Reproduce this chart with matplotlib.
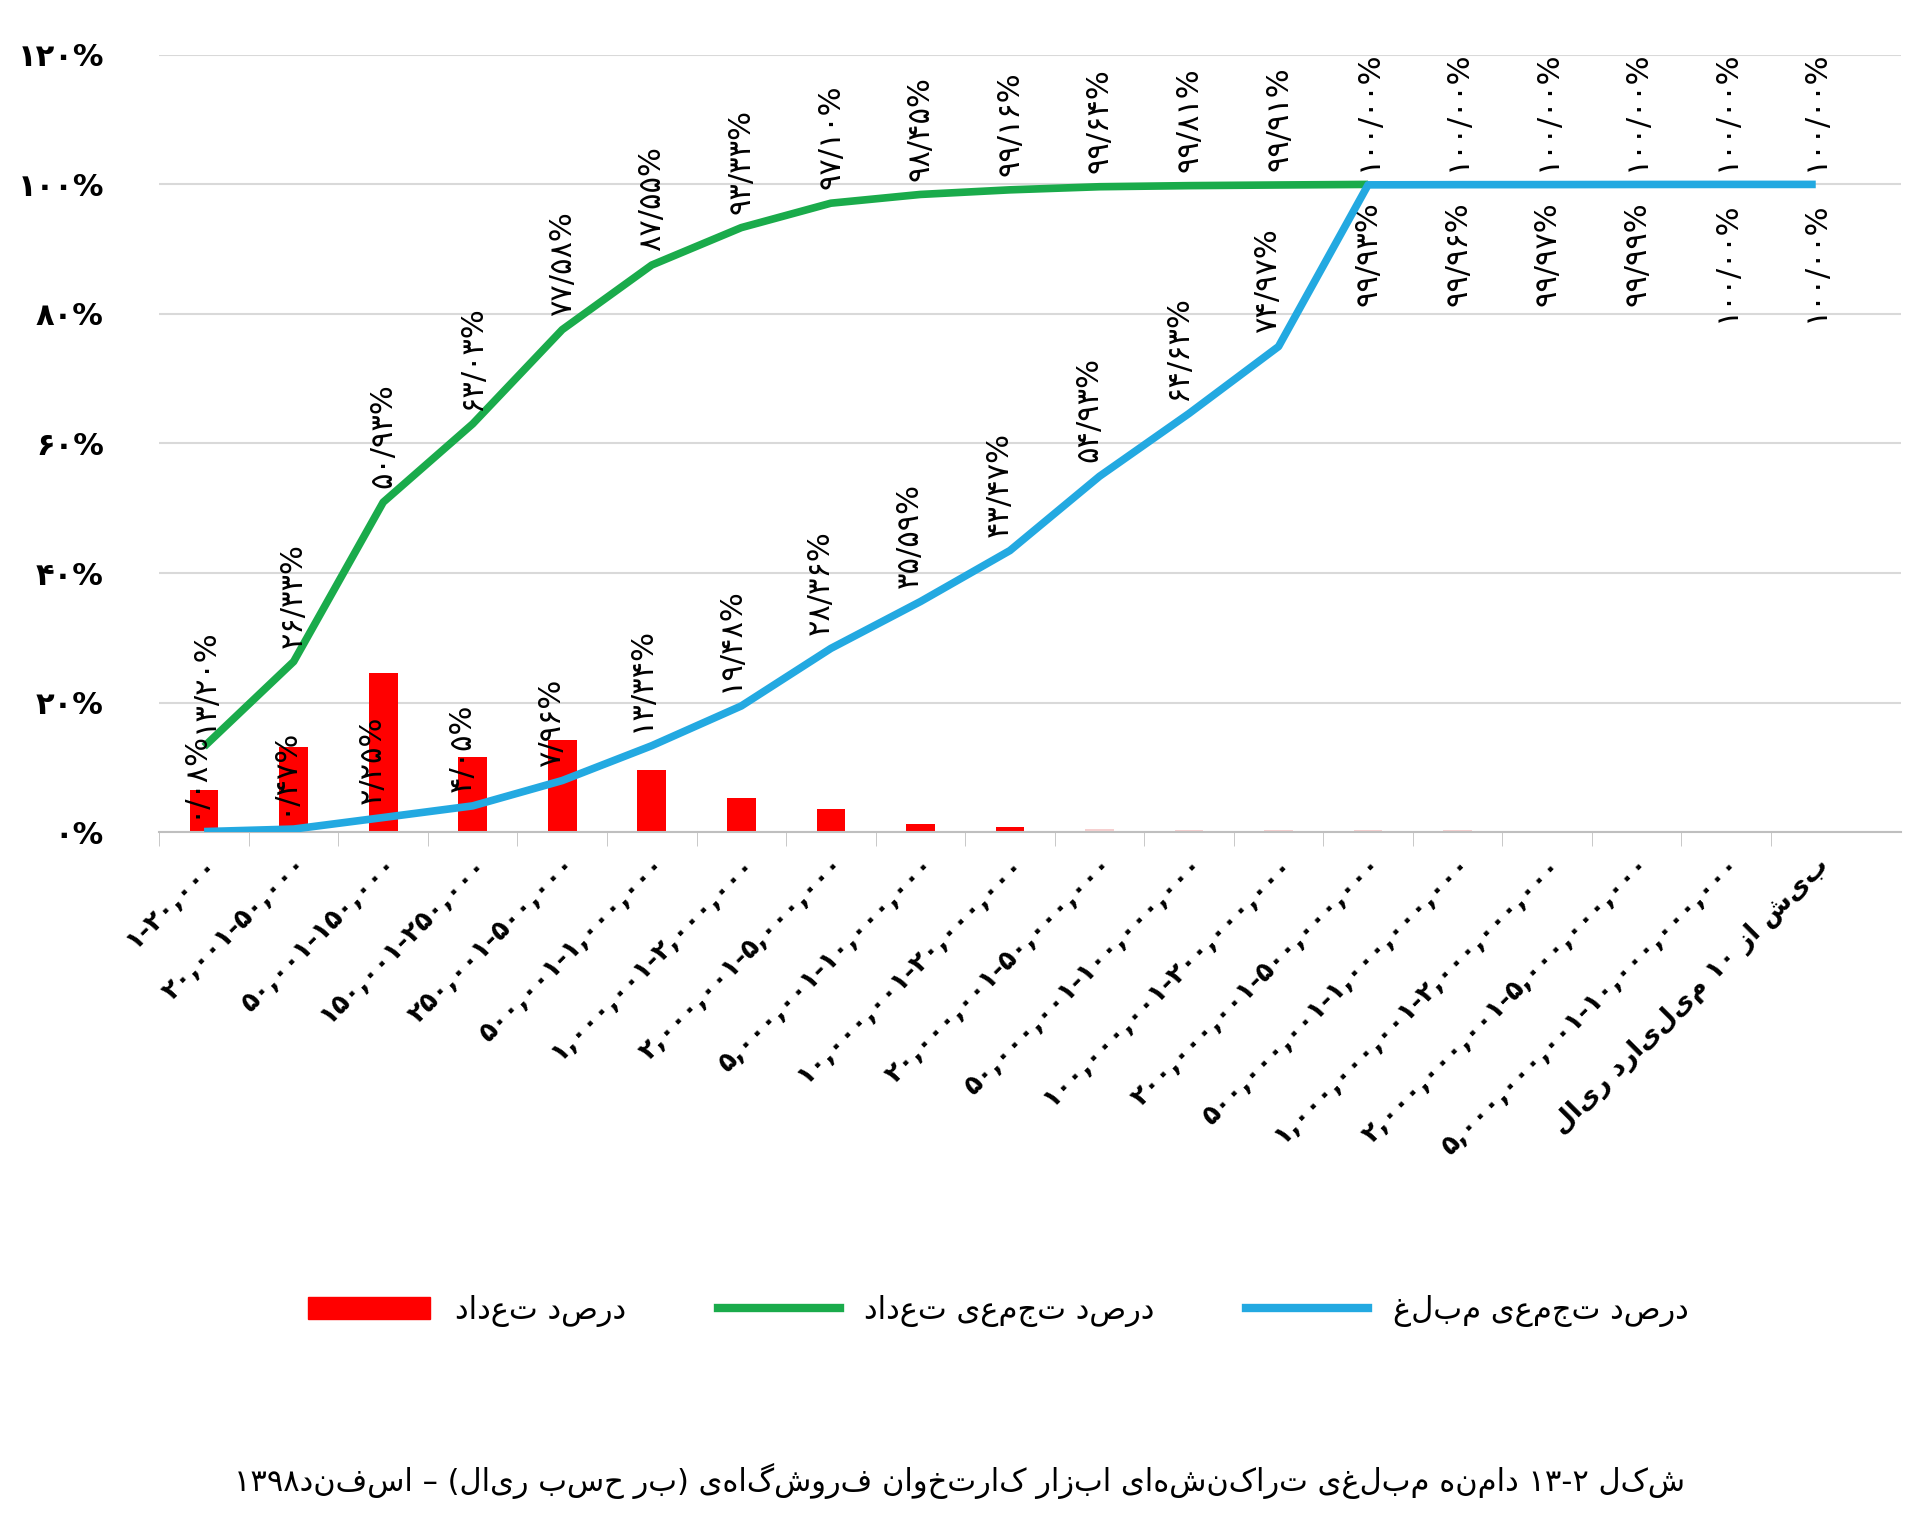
import re
import matplotlib.pyplot as plt
import numpy as np
from matplotlib.patches import Patch
from matplotlib.lines import Line2D

plt.rcParams['font.family'] = ['DejaVu Sans']

FA = str.maketrans('0123456789', '۰۱۲۳۴۵۶۷۸۹')
MIRROR = str.maketrans('()', ')(')

def fa(s):
    return str(s).translate(FA)

def rtl(s):
    # no bidi in matplotlib: flip letters by hand, keep digit runs in order
    r = s[::-1].translate(MIRROR)
    return re.sub(r'[۰-۹0-9]+', lambda m: m.group(0)[::-1], r)

# range bounds (rial)
lows = [1, 20001, 50001, 150001, 250001, 500001, 1000001, 2000001, 5000001,
        10000001, 20000001, 50000001, 100000001, 200000001, 500000001,
        1000000001, 2000000001, 5000000001]
highs = [20000, 50000, 150000, 250000, 500000, 1000000, 2000000, 5000000,
         10000000, 20000000, 50000000, 100000000, 200000000, 500000000,
         1000000000, 2000000000, 5000000000, 10000000000]
last_label = 'بیش از ۱۰ میلیارد ریال'

count_pct = [6.5, 13.1, 24.6, 11.6, 14.2, 9.6, 5.3, 3.6, 1.3, 0.8, 0.5, 0.4,
             0.4, 0.4, 0.4, 0.0, 0.0, 0.0, 0.0]
cum_count = [13.20, 26.33, 50.93, 63.03, 77.58, 87.55, 93.33, 97.10, 98.45,
             99.16, 99.64, 99.81, 99.91, 100.00, 100.00, 100.00, 100.00,
             100.00, 100.00]
cum_amount = [0.08, 0.47, 2.25, 4.05, 7.96, 13.34, 19.48, 28.36, 35.59, 43.47,
              54.93, 64.63, 74.97, 99.93, 99.96, 99.97, 99.99, 100.00, 100.00]

labels = [fa(f'{a:,}-{b:,}') for a, b in zip(lows, highs)] + [rtl(last_label)]
x = np.arange(len(labels))

def pct_label(v):
    return fa(f'{v:.2f}').replace('.', '/') + '%'

fig = plt.figure(figsize=(19.2, 15.24), dpi=100)
ax = fig.add_axes([0.083, 0.454, 0.907, 0.51])

bar_colors = ['#ff0000' if i < 10 else '#f6d0d0' for i in x]
ax.bar(x, count_pct, width=0.32, color=bar_colors, zorder=2)
ax.plot(x[:14], cum_count[:14], color='#1aab4b', lw=5.5, zorder=3, solid_capstyle='butt')
ax.plot(x, cum_amount, color='#23a9e1', lw=5.5, zorder=4, solid_capstyle='butt')

for i, v in enumerate(cum_count):
    ax.annotate(pct_label(v), (i, v), xytext=(0, 10), textcoords='offset points',
                rotation=90, ha='center', va='bottom', fontsize=22)
for i, v in enumerate(cum_amount):
    if i < 13:
        ax.annotate(pct_label(v), (i - 0.12, v), xytext=(0, 10), textcoords='offset points',
                    rotation=90, ha='center', va='bottom', fontsize=22)
    else:
        ax.annotate(pct_label(v), (i, v), xytext=(0, -12), textcoords='offset points',
                    rotation=90, ha='center', va='top', fontsize=22)

ax.set_xlim(-0.5, len(x) - 0.05)
ax.set_ylim(0, 120)
yt = np.arange(0, 121, 20)
ax.set_yticks(yt)
ax.set_yticklabels([fa(v) + '%' for v in yt], fontsize=22, fontweight='bold')
ax.tick_params(axis='y', length=0, pad=40)
ax.set_xticks(x)
ax.set_xticklabels(labels, rotation=45, ha='right', rotation_mode='anchor',
                   fontsize=19, fontweight='bold')
ax.tick_params(axis='x', length=0, pad=14)
ax.set_xticks(x - 0.5, minor=True)
ax.tick_params(axis='x', which='minor', length=10, color='#bfbfbf')
ax.grid(axis='y', color='#d9d9d9', lw=1.5, zorder=0)
ax.set_axisbelow(True)
for s in ['top', 'right', 'left']:
    ax.spines[s].set_visible(False)
ax.spines['bottom'].set_color('#bfbfbf')
ax.spines['bottom'].set_linewidth(1.5)

handles = [Patch(color='#ff0000'),
           Line2D([], [], color='#1aab4b', lw=6),
           Line2D([], [], color='#23a9e1', lw=6)]
names = [rtl('درصد تعداد'), rtl('درصد تجمعی تعداد'), rtl('درصد تجمعی مبلغ')]
fig.legend(handles, names, loc='center', bbox_to_anchor=(0.52, 0.14), ncol=3,
           frameon=False, fontsize=22, handlelength=4, columnspacing=3)

fig.text(0.5, 0.028, rtl('شکل ۲-۱۳ دامنه مبلغی تراکنش‌های ابزار کارتخوان فروشگاهی (بر حسب ریال) – اسفند۱۳۹۸'),
         ha='center', va='center', fontsize=22)

fig.savefig('out.png')
